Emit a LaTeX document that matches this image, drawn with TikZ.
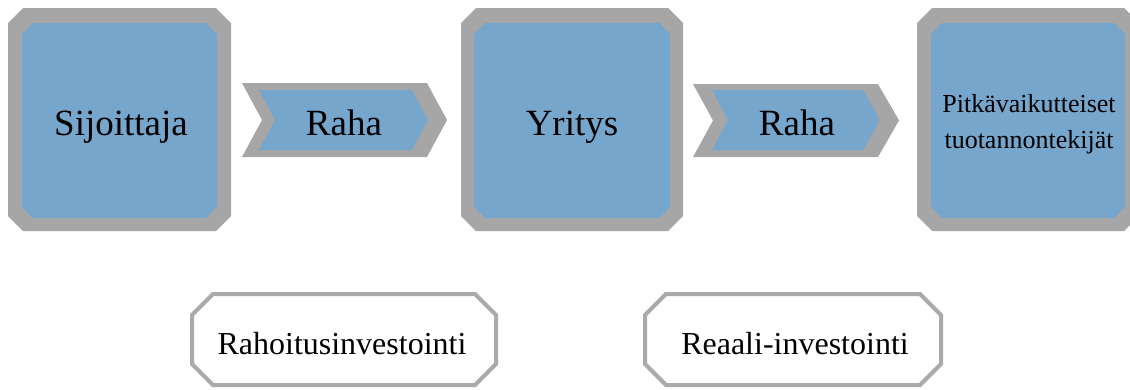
\documentclass[tikz,border=0pt]{standalone}
\usepackage{fontspec}
\setmainfont{Liberation Serif}
\definecolor{bgray}{RGB}{166,166,166}
\definecolor{lgray}{RGB}{170,170,170}
\definecolor{sblue}{RGB}{118,166,204}
\newcommand\chbox[6]{% fill, x1,y1,x2,y2,c
  \fill[#1] (#2+#6,#3) -- (#4-#6,#3) -- (#4,#3+#6) -- (#4,#5-#6) -- (#4-#6,#5) -- (#2+#6,#5) -- (#2,#5-#6) -- (#2,#3+#6) -- cycle;}
\newcommand\chevr[7]{% fill, xl,yt,xr,yb,notch,tip
  \fill[#1] (#2,#3) -- (#4-#7,#3) -- (#4,{(#3+#5)/2}) -- (#4-#7,#5) -- (#2,#5) -- (#2+#6,{(#3+#5)/2}) -- cycle;}
\tikzset{
  bigtxt/.style={anchor=base,font=\fontsize{37}{44}\selectfont,inner sep=0pt},
  midtxt/.style={anchor=base,font=\fontsize{32}{38}\selectfont,inner sep=0pt},
  smalltxt/.style={align=center,font=\fontsize{26}{36}\selectfont,inner sep=0pt}
}
\begin{document}
\begin{tikzpicture}[x=1pt,y=-1pt]
\useasboundingbox (0,0) rectangle (1130,389);
\begin{scope}
\clip (0,0) rectangle (1130,389);
% big boxes
\chbox{bgray}{8}{8}{231}{231}{15}
\chbox{sblue}{22}{23}{217}{218}{11}
\chbox{bgray}{461}{8}{683}{231}{15}
\chbox{sblue}{474}{23}{670}{218}{11}
\chbox{bgray}{917}{8}{1139}{231}{15}
\chbox{sblue}{931}{23}{1125}{218}{11}
% chevrons
\chevr{bgray}{242}{83}{447}{157}{20}{20}
\chevr{sblue}{259}{90}{428}{150}{16}{16}
\chevr{bgray}{693}{84}{899}{157}{20}{21}
\chevr{sblue}{712}{90}{880}{150}{16}{17}
% bottom boxes
\draw[lgray,line width=4] (192+21,294) -- (496-21,294) -- (496,294+21) -- (496,385-21) -- (496-21,385) -- (192+21,385) -- (192,385-21) -- (192,294+21) -- cycle;
\draw[lgray,line width=4] (645+21,294) -- (941-21,294) -- (941,294+21) -- (941,385-21) -- (941-21,385) -- (645+21,385) -- (645,385-21) -- (645,294+21) -- cycle;
\end{scope}
\node[bigtxt] (sij) at (121,135) {Sijoittaja};
\node[bigtxt] (raha1) at (344,135) {Raha};
\node[bigtxt] (yri) at (572,135) {Yritys};
\node[bigtxt] (raha2) at (797,135) {Raha};
\node[smalltxt] (pitka) at (1029,124) {Pitkävaikutteiset\\tuotannontekijät};
\node[midtxt] (rahinv) at (342,354) {Rahoitusinvestointi};
\node[midtxt] (reaali) at (795,354) {Reaali-investointi};
\end{tikzpicture}
\end{document}
